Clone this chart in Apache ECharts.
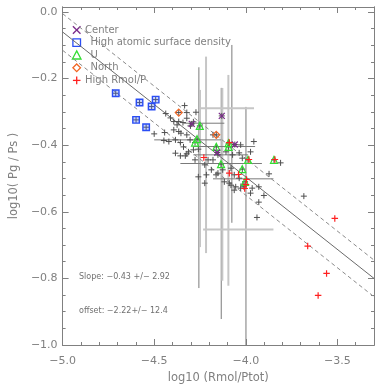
<!DOCTYPE html>
<html>
<head>
<meta charset="utf-8">
<script src="https://cdn.jsdelivr.net/npm/echarts@6/dist/echarts.min.js"></script>
<style>
html,body{margin:0;padding:0;background:#fff;}
#chart{width:382px;height:389px;}
</style>
</head>
<body>
<div id="chart"></div>
<script>
// ---- tick labels ----
const xMajorTicks = [-5.0, -4.5, -4.0, -3.5];
const yMajorTicks = [-1.0, -0.8, -0.6, -0.4, -0.2, 0.0];

// ---- data: all galaxies (black +) ----
const allPoints = [
  [-4.437,-0.305],[-4.411,-0.318],[-4.393,-0.329],[-4.366,-0.329],[-4.334,-0.281],
  [-4.322,-0.319],[-4.272,-0.301],[-4.322,-0.302],[-4.375,-0.339],[-4.500,-0.366],
  [-4.443,-0.362],[-4.393,-0.354],[-4.366,-0.359],[-4.354,-0.364],[-4.322,-0.369],
  [-4.447,-0.386],[-4.420,-0.389],[-4.384,-0.384],[-4.357,-0.392],[-4.340,-0.405],
  [-4.384,-0.424],[-4.322,-0.426],[-4.304,-0.384],[-4.313,-0.420],[-4.286,-0.414],
  [-4.259,-0.412],[-4.357,-0.432],[-4.330,-0.432],[-4.277,-0.444],[-4.259,-0.495],
  [-4.215,-0.489],[-4.224,-0.514],[-4.206,-0.444],[-4.179,-0.444],[-4.152,-0.429],
  [-4.072,-0.429],[-4.036,-0.423],[-4.019,-0.439],[-3.974,-0.420],[-3.956,-0.389],
  [-4.028,-0.399],[-4.224,-0.459],[-4.188,-0.474],[-4.126,-0.474],[-4.081,-0.469],
  [-4.063,-0.489],[-4.036,-0.499],[-4.090,-0.514],[-4.117,-0.510],[-4.081,-0.520],
  [-4.055,-0.525],[-4.028,-0.529],[-4.010,-0.525],[-3.965,-0.529],[-3.929,-0.525],
  [-3.901,-0.551],[-3.929,-0.571],[-3.810,-0.453],[-4.162,-0.489],[-3.873,-0.486],
  [-4.063,-0.535],[-4.015,-0.517],[-3.939,-0.617],[-3.683,-0.553],[-4.343,-0.332],
  [-4.302,-0.342],[-4.179,-0.369],[-4.108,-0.420],[-4.152,-0.484],[-3.974,-0.544],
  [-4.286,-0.330]
];
const centerPoints = [[-4.131,-0.312],[-4.295,-0.336],[-4.060,-0.398],[-4.156,-0.422]];
const atomicPoints = [[-4.710,-0.244],[-4.580,-0.272],[-4.514,-0.284],[-4.492,-0.263],[-4.599,-0.324],[-4.544,-0.346]];
const uPoints = [[-4.251,-0.342],[-4.266,-0.382],[-4.277,-0.392],[-4.161,-0.405],[-4.094,-0.405],
  [-4.094,-0.394],[-4.135,-0.457],[-4.019,-0.472],[-3.988,-0.444],[-4.004,-0.510],[-3.846,-0.444]];
const northPoints = [[-4.366,-0.302],[-4.161,-0.369]];
const highRmolPoints = [[-4.090,-0.392],[-4.229,-0.437],[-3.983,-0.443],[-3.841,-0.443],[-4.090,-0.484],
  [-4.040,-0.488],[-3.996,-0.503],[-3.999,-0.518],[-4.006,-0.530],[-3.514,-0.620],[-3.662,-0.703],
  [-3.559,-0.785],[-3.605,-0.851]];

// ---- error bars: vertical [x, yLow, yHigh, dark(1)/light(0)] ----
const vErrBars = [
  [-4.256,-0.829,-0.166,1],[-4.250,-0.706,-0.234,0],[-4.217,-0.724,-0.134,0],
  [-4.134,-0.922,-0.228,1],[-4.128,-0.807,-0.228,0],[-4.095,-0.822,-0.189,0],
  [-4.076,-0.633,-0.099,1],[-3.999,-1.000,-0.285,1]
];
// horizontal [y, xLow, xHigh, dark(1)/light(0)]
const hErrBars = [
  [-0.289,-4.250,-3.955,0],[-0.334,-4.340,-4.117,1],[-0.384,-4.500,-4.135,1],
  [-0.404,-4.286,-3.949,1],[-0.429,-4.286,-3.987,1],[-0.455,-4.357,-3.912,1],
  [-0.501,-4.179,-3.849,1],[-0.653,-4.233,-3.849,0]
];

// ---- fit lines ----
const fitLine = [[-5.0,-0.060],[-3.3,-0.800]];
const upperLine = [[-5.0,-0.005],[-3.3,-0.745]];
const lowerLine = [[-5.0,-0.115],[-3.3,-0.855]];

const legendNames = ['Center', 'High atomic surface density', 'U', 'North', 'High Rmol/P'];
const slopeText = 'Slope: \u22120.43 +/\u2212 2.92';
const offsetText = 'offset: \u22122.22+/\u2212 12.4';

// ---- build minor ticks ----
const xMinorTicks = [];
for (let i = -50; i <= -33; i++) { if (i % 5 !== 0) xMinorTicks.push(i / 10); }
const yMinorTicks = [];
for (let i = -20; i <= 0; i++) { if (i % 4 !== 0) yMinorTicks.push(i / 20); }

const AX = '#808080';
const TXT = '#808080';
const FONT = 'DejaVu Sans';
const fmt = v => v.toFixed(1).replace('-', '\u2212');

function xAxisDef(pos, ticks, len, labels, name) {
  const a = {
    type: 'value', position: pos, min: -5.0, max: -3.3, offset: 0,
    axisLine: { show: true, onZero: false, lineStyle: { color: AX, width: 1 } },
    splitLine: { show: false },
    axisTick: { show: true, inside: true, length: len, customValues: ticks, lineStyle: { color: AX } },
    axisLabel: { show: labels, customValues: xMajorTicks, formatter: fmt, color: TXT, fontFamily: FONT, fontSize: 11, margin: 11 }
  };
  if (name) {
    a.name = name; a.nameLocation = 'middle'; a.nameGap = 25;
    a.nameTextStyle = { color: TXT, fontFamily: FONT, fontSize: 11.5 };
  }
  return a;
}
function yAxisDef(pos, ticks, len, labels, name) {
  const a = {
    type: 'value', position: pos, min: -1.0, max: 0.015, offset: 0,
    axisLine: { show: true, onZero: false, lineStyle: { color: AX, width: 1 } },
    splitLine: { show: false },
    axisTick: { show: true, inside: true, length: len, customValues: ticks, lineStyle: { color: AX } },
    axisLabel: { show: labels, customValues: yMajorTicks, formatter: fmt, color: TXT, fontFamily: FONT, fontSize: 11, margin: 5 }
  };
  if (name) {
    a.name = name; a.nameLocation = 'middle'; a.nameGap = 38; a.nameRotate = 90;
    a.nameTextStyle = { color: TXT, fontFamily: FONT, fontSize: 11.5 };
  }
  return a;
}

const plusPath = 'path://M0,5L10,5M5,0L5,10';
const xPath = 'path://M0,0L10,10M10,0L0,10';

function scatter(name, data, symbol, size, stroke, fill, bw, z) {
  return {
    name: name, type: 'scatter', xAxisIndex: 0, yAxisIndex: 0, data: data,
    symbol: symbol, symbolSize: size, z: z,
    itemStyle: { color: fill, borderColor: stroke, borderWidth: bw, opacity: 1 },
    emphasis: { disabled: true }, silent: true
  };
}

function errRenderer(vertical) {
  return function (params, api) {
    const dark = api.value(3) === 1;
    let p1, p2;
    if (vertical) { p1 = api.coord([api.value(0), api.value(1)]); p2 = api.coord([api.value(0), api.value(2)]); }
    else { p1 = api.coord([api.value(1), api.value(0)]); p2 = api.coord([api.value(2), api.value(0)]); }
    return { type: 'line', shape: { x1: p1[0], y1: p1[1], x2: p2[0], y2: p2[1] },
      style: { stroke: dark ? '#7a7a7a' : '#c6c6c6', lineWidth: dark ? 1 : 2 } };
  };
}

// ---- legend built from graphic elements ----
const LX = 76.7, LY0 = 30, LDY = 12.6;
const legendStyles = [
  { color: '#7a2a8a', shape: 'x', tx: 85 },
  { color: '#2a4df5', shape: 'square', tx: 90.5 },
  { color: '#33dd33', shape: 'triangle', tx: 90.5 },
  { color: '#f26522', shape: 'diamond', tx: 90.5 },
  { color: '#ff2020', shape: 'plus', tx: 85 }
];
const legendGraphics = [];
legendNames.forEach((nm, i) => {
  const s = legendStyles[i];
  const cy = LY0 + i * LDY, r = 3.8;
  const st = { stroke: s.color, lineWidth: 1.3, fill: 'none' };
  let el;
  if (s.shape === 'x') el = { type: 'group', children: [
      { type: 'line', shape: { x1: LX - r, y1: cy - r, x2: LX + r, y2: cy + r }, style: st },
      { type: 'line', shape: { x1: LX + r, y1: cy - r, x2: LX - r, y2: cy + r }, style: st }] };
  else if (s.shape === 'plus') el = { type: 'group', children: [
      { type: 'line', shape: { x1: LX - r, y1: cy, x2: LX + r, y2: cy }, style: st },
      { type: 'line', shape: { x1: LX, y1: cy - r, x2: LX, y2: cy + r }, style: st }] };
  else if (s.shape === 'square') el = { type: 'rect', shape: { x: LX - r, y: cy - r, width: 2 * r, height: 2 * r }, style: st };
  else if (s.shape === 'triangle') el = { type: 'polygon', shape: { points: [[LX, cy - r - 0.5], [LX + r + 0.5, cy + r], [LX - r - 0.5, cy + r]] }, style: st };
  else el = { type: 'polygon', shape: { points: [[LX, cy - r], [LX + r, cy], [LX, cy + r], [LX - r, cy]] }, style: st };
  legendGraphics.push(el);
  legendGraphics.push({ type: 'text', x: s.tx, y: cy, style: { text: nm, fill: TXT, font: '10px "DejaVu Sans"', verticalAlign: 'middle' } });
});

const basePoints = allPoints.concat(centerPoints, atomicPoints, uPoints, northPoints);

const chart = echarts.init(document.getElementById('chart'), null, { renderer: 'canvas' });
chart.setOption({
  animation: false,
  backgroundColor: '#fff',
  grid: { left: 56, top: 7, width: 318, height: 338, containLabel: false },
  xAxis: [
    xAxisDef('bottom', xMajorTicks, 6, true, 'log10 (Rmol/Ptot)'),
    xAxisDef('bottom', xMinorTicks, 3, false),
    xAxisDef('top', xMajorTicks, 6, false),
    xAxisDef('top', xMinorTicks, 3, false)
  ],
  yAxis: [
    yAxisDef('left', yMajorTicks, 6, true, 'log10( Pg / Ps )'),
    yAxisDef('left', yMinorTicks, 3, false),
    yAxisDef('right', yMajorTicks, 6, false),
    yAxisDef('right', yMinorTicks, 3, false)
  ],
  graphic: legendGraphics.concat([
    { type: 'text', left: 79, top: 273, style: { text: slopeText, fill: '#707070', font: '8px "DejaVu Sans"' } },
    { type: 'text', left: 79, top: 307, style: { text: offsetText, fill: '#707070', font: '8px "DejaVu Sans"' } }
  ]),
  series: [
    { type: 'custom', xAxisIndex: 0, yAxisIndex: 0, data: vErrBars, renderItem: errRenderer(true), encode: { x: 0, y: [1, 2] }, z: 1, silent: true },
    { type: 'custom', xAxisIndex: 0, yAxisIndex: 0, data: hErrBars, renderItem: errRenderer(false), encode: { x: [1, 2], y: 0 }, z: 1, silent: true },
    { type: 'line', xAxisIndex: 0, yAxisIndex: 0, data: fitLine, symbol: 'none', lineStyle: { color: '#6a6a6a', width: 1 }, z: 2, silent: true },
    { type: 'line', xAxisIndex: 0, yAxisIndex: 0, data: upperLine, symbol: 'none', lineStyle: { color: '#8a8a8a', width: 1, type: [4, 3] }, z: 2, silent: true },
    { type: 'line', xAxisIndex: 0, yAxisIndex: 0, data: lowerLine, symbol: 'none', lineStyle: { color: '#8a8a8a', width: 1, type: [4, 3] }, z: 2, silent: true },
    scatter('all', basePoints, plusPath, 6, '#505050', 'rgba(0,0,0,0)', 1, 3),
    scatter('High atomic surface density', atomicPoints, 'rect', 6.5, '#2a4df5', 'rgba(70,110,255,0.3)', 1.4, 4),
    scatter('North', northPoints, 'diamond', 7, '#f26522', 'rgba(0,0,0,0)', 1.2, 4),
    scatter('U', uPoints, 'triangle', 7, '#33dd33', 'rgba(0,0,0,0)', 1.2, 4),
    scatter('Center', centerPoints, xPath, 6, '#7a2a8a', 'rgba(0,0,0,0)', 1.2, 5),
    scatter('High Rmol/P', highRmolPoints, plusPath, 6.5, '#ff2020', 'rgba(0,0,0,0)', 1.2, 6)
  ]
});
</script>
</body>
</html>
